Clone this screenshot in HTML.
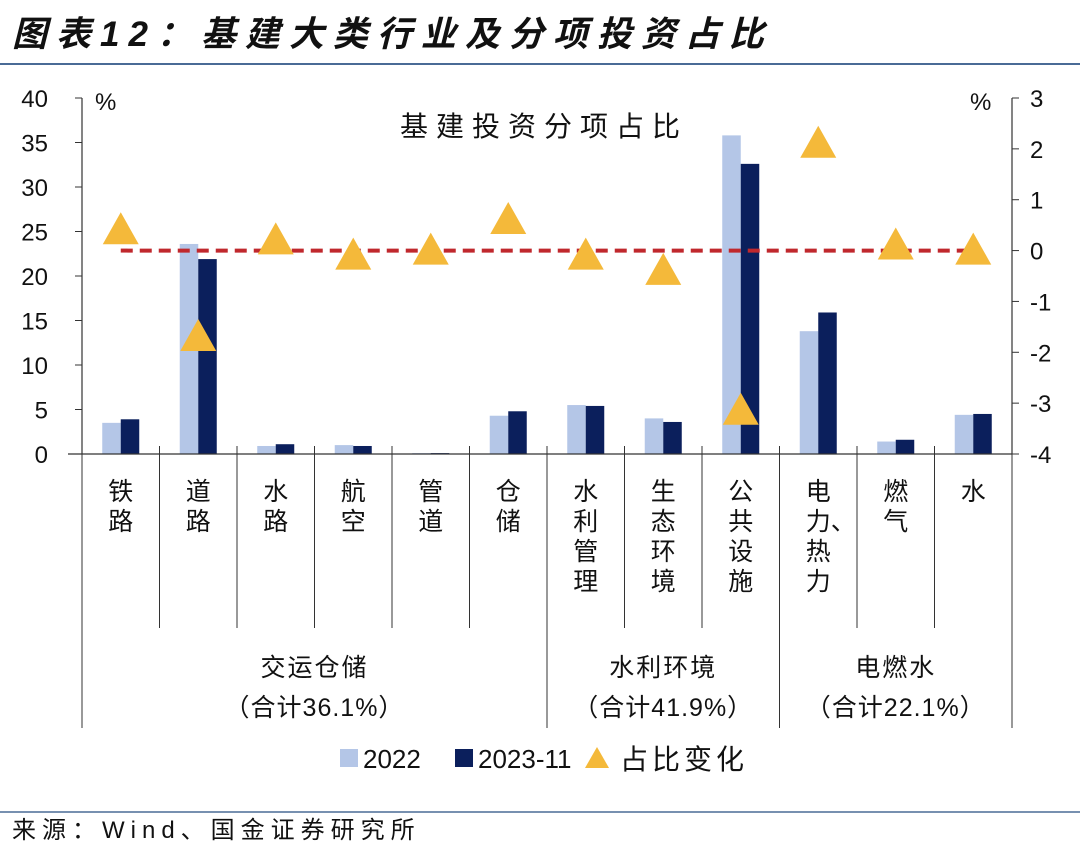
<!DOCTYPE html>
<html><head><meta charset="utf-8"><style>
body{margin:0;background:#fff;font-family:"Liberation Sans","Noto Sans CJK SC",sans-serif;}
svg text{font-family:"Liberation Sans","Noto Sans CJK SC",sans-serif;}
</style></head><body>
<svg id="c" width="1080" height="851" xmlns="http://www.w3.org/2000/svg">
<text x="12" y="46" font-size="35" font-weight="bold" font-style="italic" fill="#111" letter-spacing="9">图表12：基建大类行业及分项投资占比</text>
<line x1="0" y1="64" x2="1080" y2="64" stroke="#4a6b96" stroke-width="2"/>
<line x1="0" y1="812" x2="1080" y2="812" stroke="#4a6b96" stroke-width="1.5"/>
<text x="12" y="838" font-size="24" fill="#111" letter-spacing="6">来源：Wind、国金证券研究所</text>
<text x="400" y="136" font-size="28" fill="#111" letter-spacing="8">基建投资分项占比</text>
<text x="95" y="110" font-size="24" fill="#111">%</text>
<text x="970" y="110" font-size="24" fill="#111">%</text>
<g id="g"></g>
</svg>
<script>
const categories=["铁路","道路","水路","航空","管道","仓储","水利管理","生态环境","公共设施","电|力、|热|力","燃气","水"];
const v2022=[3.5,23.6,0.9,1.0,0.1,4.3,5.5,4.0,35.8,13.8,1.4,4.4];
const v2023=[3.9,21.9,1.1,0.9,0.1,4.8,5.4,3.6,32.6,15.9,1.6,4.5];
const change=[0.4,-1.7,0.2,-0.1,0.0,0.6,-0.1,-0.4,-3.15,2.1,0.1,0.0];
const leftTicks=[0,5,10,15,20,25,30,35,40];
const rightTicks=[-4,-3,-2,-1,0,1,2,3];
const groups=[{name:"交运仓储",sum:"（合计36.1%）",start:0,end:6},{name:"水利环境",sum:"（合计41.9%）",start:6,end:9},{name:"电燃水",sum:"（合计22.1%）",start:9,end:12}];
const NS="http://www.w3.org/2000/svg",g=document.getElementById('g');
const X0=82,X1=1012,YT=98,YB=454,cw=(X1-X0)/categories.length;
const yL=v=>YB-(v-0)/(40-0)*(YB-YT);
const yR=v=>YB-(v+4)/7*(YB-YT);
const xc=i=>X0+cw*(i+0.5);
function el(t,a,txt){const e=document.createElementNS(NS,t);for(const k in a)e.setAttribute(k,a[k]);if(txt!=null)e.textContent=txt;g.appendChild(e);return e;}
let e=el('line',{x1:X0,y1:YT,x2:X0,y2:YB,stroke:'#333','stroke-width':1.2});

e=el('line',{x1:X1,y1:YT,x2:X1,y2:YB,stroke:'#333','stroke-width':1.2});

leftTicks.forEach(t=>{const y=yL(t);el('line',{x1:X0-7,y1:y,x2:X0,y2:y,stroke:'#333'});
 e=el('text',{x:48,y:y+9,'font-size':24,'text-anchor':'end',fill:'#111'},t);
 });
rightTicks.forEach(t=>{const y=yR(t);el('line',{x1:X1,y1:y,x2:X1+7,y2:y,stroke:'#333'});
 e=el('text',{x:1030,y:y+9,'font-size':24,fill:'#111'},t<0?'-'+Math.abs(t):t);
 });
const bw=18.5;
categories.forEach((c,i)=>{
 e=el('rect',{x:xc(i)-bw,y:yL(v2022[i]),width:bw,height:YB-yL(v2022[i]),fill:'#b4c6e7'});
 
 e=el('rect',{x:xc(i),y:yL(v2023[i]),width:bw,height:YB-yL(v2023[i]),fill:'#0b1f5c'});
 
});
e=el('line',{x1:X0-14,y1:YB,x2:X1,y2:YB,stroke:'#333','stroke-width':1.2});

const gb=groups.map(x=>x.start).concat([12]);
for(let i=0;i<=12;i++){const x=X0+cw*i;const big=gb.includes(i);
 el('line',{x1:x,y1:YB-8,x2:x,y2:big?728:628,stroke:'#333','stroke-width':1});}
e=el('line',{x1:xc(0),y1:yR(0),x2:xc(11),y2:yR(0),stroke:'#c0282d','stroke-width':4,'stroke-dasharray':'12 7'});

change.forEach((v,i)=>{const x=xc(i),y=yR(v);
 e=el('polygon',{points:`${x},${y-18} ${x-18},${y+14} ${x+18},${y+14}`,fill:'#f4b93a'});
 });
categories.forEach((c,i)=>{const rows=c.includes('|')?c.split('|'):[...c];rows.forEach((ch,j)=>{
 const t=el('text',{x:xc(i),y:500+j*30,'font-size':25,'text-anchor':ch.length>1?'start':'middle',fill:'#111'},ch);
 if(ch.length>1)t.setAttribute('x',xc(i)-12.5);
 });});
groups.forEach(gr=>{const x=(X0+cw*gr.start+X0+cw*gr.end)/2;
 e=el('text',{x:x,y:676,'font-size':25,'text-anchor':'middle',fill:'#111','letter-spacing':2},gr.name);
 
 e=el('text',{x:x,y:716,'font-size':25,'text-anchor':'middle',fill:'#111','letter-spacing':1},gr.sum);
 });
e=el('rect',{x:340,y:749,width:18,height:18,fill:'#b4c6e7'});
e=el('text',{x:363,y:768,'font-size':26,fill:'#111'},'2022');
e=el('rect',{x:455,y:749,width:18,height:18,fill:'#0b1f5c'});
e=el('text',{x:478,y:768,'font-size':26,fill:'#111'},'2023-11');
e=el('polygon',{points:'597,747 585,768 609,768',fill:'#f4b93a'});
e=el('text',{x:620,y:769,'font-size':28,fill:'#111','letter-spacing':4},'占比变化');
</script>
</body></html>
